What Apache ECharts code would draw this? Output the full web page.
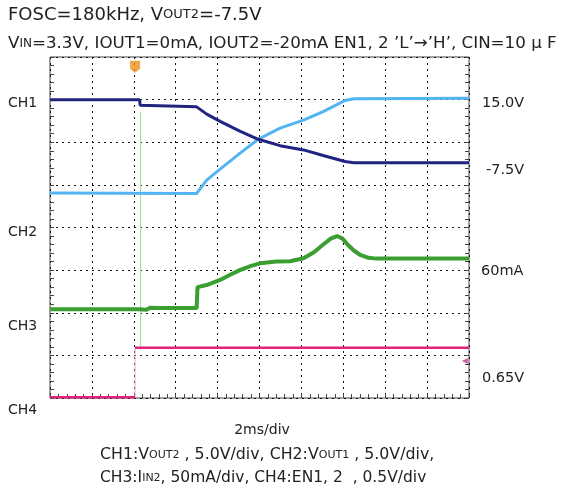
<!DOCTYPE html>
<html>
<head>
<meta charset="utf-8">
<script src="https://cdn.jsdelivr.net/npm/echarts@6/dist/echarts.min.js"></script>
<style>
html,body{margin:0;padding:0;background:#fff;}
#c{width:565px;height:488px;}
</style>
</head>
<body>
<div id="c"></div>
<script>
// Screen divisions: x 0..10 (2ms/div), y 0..8
const ch1Vout2 = [[0,7.0],[2.14,7.0],[2.15,6.87],[3.5,6.83],[3.74,6.66],[4.06,6.49],[4.53,6.26],[4.97,6.07],[5.49,5.92],[6.05,5.82],[6.52,5.69],[7.04,5.55],[7.25,5.52],[10,5.52]];
const ch2Vout1 = [[0,4.81],[3.5,4.80],[3.74,5.11],[4.06,5.37],[4.53,5.74],[4.97,6.07],[5.49,6.33],[6.05,6.52],[6.52,6.72],[7.04,6.98],[7.25,7.02],[10,7.03]];
const ch3Iin2 = [[0,2.08],[2.12,2.08],[2.15,2.04],[2.3,2.07],[2.4,2.12],[2.6,2.11],[3.5,2.11],[3.52,2.6],[3.74,2.65],[4.06,2.77],[4.3,2.89],[4.53,3.0],[4.8,3.1],[5.01,3.16],[5.4,3.2],[5.73,3.21],[6.05,3.28],[6.3,3.42],[6.52,3.6],[6.7,3.74],[6.85,3.80],[6.98,3.74],[7.1,3.6],[7.25,3.46],[7.4,3.36],[7.6,3.29],[7.8,3.27],[10,3.27]];
const ch3Spike = [[2.16,1.13],[2.16,6.71]];
const ch4Low = [[0,0.02],[2.03,0.02]];
const ch4Edge = [[2.03,0.02],[2.03,1.18]];
const ch4High = [[2.03,1.18],[10,1.18]];
const triggerMark = [[2.03,7.77]];
const ch4GroundMark = [[9.9,0.87]];

const titleLine1 = 'FOSC=180kHz, V{s|OUT2}=-7.5V';
const titleLine2 = 'V{s|IN}=3.3V, IOUT1=0mA, IOUT2=-20mA EN1, 2 \u2019L\u2019\u2192\u2019H\u2019, CIN=10 \u03bc F';
const leftLabels = ['CH1','CH2','CH3','CH4'];
const leftLabelY = [103,232,326,410];
const rightLabels = ['15.0V','-7.5V','60mA','0.65V'];
const rightLabelX = [482,486,481,482];
const rightLabelY = [103,170,271,378];
const timeLabel = '2ms/div';
const footLine1 = 'CH1:V{s|OUT2} , 5.0V/div, CH2:V{s|OUT1} , 5.0V/div,';
const footLine2 = 'CH3:I{s|IN2}, 50mA/div, CH4:EN1, 2  , 0.5V/div';

const FONT = '"DejaVu Sans", "Liberation Sans", sans-serif';
const TXT = '#222';

const chart = echarts.init(document.getElementById('c'), null, {renderer:'canvas'});

const graphics = [];
function addText(text, x, y, size, align) {
  graphics.push({
    type: 'text', x: x, y: y,
    style: {
      text: text, fill: TXT, font: size + 'px ' + FONT,
      textAlign: align || 'left', textVerticalAlign: 'middle',
      rich: { s: { fontSize: Math.round(size * 0.72), fontFamily: FONT, fill: TXT } }
    }
  });
}
addText(titleLine1, 8, 15, 18);
addText(titleLine2, 8, 44, 16.7);
leftLabels.forEach((t, i) => addText(t, 8, leftLabelY[i], 14));
rightLabels.forEach((t, i) => addText(t, rightLabelX[i], rightLabelY[i], 14.5));
addText(timeLabel, 262, 430, 14, 'center');
addText(footLine1, 100, 455, 15.8);
addText(footLine2, 100, 478, 15.5);

const gridLine = { show: true, lineStyle: { color: '#111', type: [2, 4], width: 1 } };
const lineSeries = (data, color, width, z) => ({
  type: 'line', data: data, showSymbol: false, symbol: 'none',
  lineStyle: { color: color, width: width }, z: z || 2, animation: false
});

chart.setOption({
  animation: false,
  backgroundColor: '#fff',
  grid: { left: 50, top: 57, width: 419, height: 341, show: true, borderColor: '#444', borderWidth: 1, backgroundColor: 'transparent' },
  xAxis: [{
    type: 'value', min: 0, max: 10, interval: 1,
    axisLine: { show: false },
    axisTick: { show: true, inside: true, length: 4, lineStyle: { color: '#444' } },
    minorTick: { show: true, splitNumber: 5, length: 4, lineStyle: { color: '#444' } },
    axisLabel: { show: false },
    splitLine: gridLine
  }],
  yAxis: [{
    type: 'value', min: 0, max: 8, interval: 1, position: 'left',
    axisLine: { show: false },
    axisTick: { show: true, inside: true, length: 4, lineStyle: { color: '#444' } },
    minorTick: { show: true, splitNumber: 5, length: 4, lineStyle: { color: '#444' } },
    axisLabel: { show: false },
    splitLine: gridLine
  }, {
    type: 'value', min: 0, max: 8, interval: 1, position: 'right',
    axisLine: { show: false },
    axisTick: { show: true, inside: true, length: 4, lineStyle: { color: '#444' } },
    minorTick: { show: true, splitNumber: 5, length: 4, lineStyle: { color: '#444' } },
    axisLabel: { show: false },
    splitLine: { show: false }
  }],
  series: [
    lineSeries(ch3Spike, '#a9dba9', 1.2, 1),
    lineSeries(ch4Edge, '#f3a6c8', 1, 2),
    lineSeries(ch4Low, '#e2237a', 2.5, 3),
    lineSeries(ch4High, '#e2237a', 2.5, 3),
    lineSeries(ch3Iin2, '#3a9e30', 4, 3),
    lineSeries(ch2Vout1, '#52b4f2', 3, 4),
    lineSeries(ch1Vout2, '#20237f', 3, 5),
    {
      type: 'scatter', data: triggerMark, symbol: 'path://M0,0 L10,0 L10,8 L5,12 L0,8 Z',
      symbolSize: [10, 12], itemStyle: { color: '#f0901c' }, z: 6, animation: false
    },
    {
      type: 'scatter', data: ch4GroundMark, symbol: 'triangle', symbolRotate: 90,
      symbolSize: 6, itemStyle: { color: '#c0308c' }, z: 6, animation: false
    }
  ],
  graphic: graphics
});
</script>
</body>
</html>
